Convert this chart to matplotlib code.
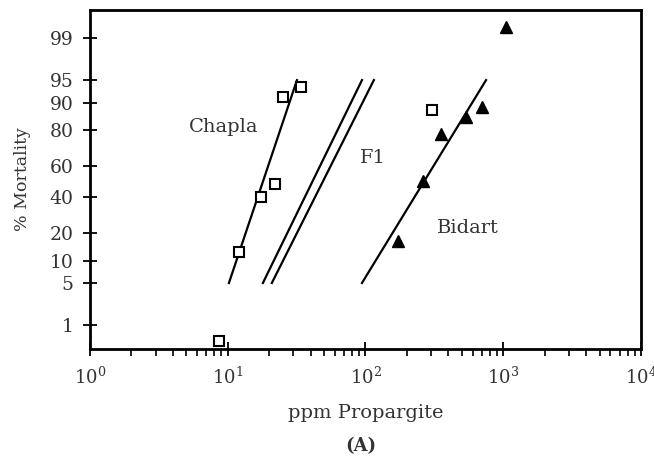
import numpy as np
import matplotlib
matplotlib.use("Agg")
import matplotlib.pyplot as plt
from matplotlib.ticker import FixedLocator, NullLocator, LogLocator
from statistics import NormalDist

# observed points (ppm, % mortality)
chapla_ppm = [8.6, 12.1, 17.4, 22.0, 25.2, 34.0, 304]
chapla_mort = [0.49, 12.8, 40, 48.7, 91.4, 93.7, 87.6]
bidart_ppm = [172, 261, 353, 537, 701, 1047]
bidart_mort = [16.9, 50.6, 77.8, 85.1, 88.6, 99.4]

# fitted probit lines, drawn from 5% to 95%
fit_mort = [5, 95]
chapla_fit = [10.2, 31.8]
f1a_fit = [18.0, 94.3]
f1b_fit = [20.9, 115]
bidart_fit = [94.3, 750]

y_ticks = [1, 5, 10, 20, 40, 60, 80, 90, 95, 99]

nd = NormalDist()
_ppf = np.vectorize(nd.inv_cdf, otypes=[float])
_cdf = np.vectorize(nd.cdf, otypes=[float])

def probit(p):
    p = np.clip(np.asarray(p, dtype=float) / 100.0, 1e-9, 1 - 1e-9)
    return _ppf(p)

def inv_probit(z):
    return _cdf(np.asarray(z, dtype=float)) * 100.0

plt.rcParams['font.family'] = 'DejaVu Serif'
plt.rcParams['mathtext.fontset'] = 'dejavuserif'
txt = '#333333'

fig = plt.figure(figsize=(6.54, 4.61), dpi=100)
ax = fig.add_axes([0.1376, 0.243, 0.8425, 0.735])

ax.set_xscale('log')
ax.set_yscale('function', functions=(probit, inv_probit))
ax.set_xlim(1, 1e4)
ax.set_ylim(0.331, 99.728)

ax.plot(chapla_fit, fit_mort, color='black', lw=1.6)
ax.plot(f1a_fit, fit_mort, color='black', lw=1.6)
ax.plot(f1b_fit, fit_mort, color='black', lw=1.6)
ax.plot(bidart_fit, fit_mort, color='black', lw=1.6)

ax.plot(chapla_ppm, chapla_mort, ls='none', marker='s', ms=7.5,
        mfc='white', mec='black', mew=1.5, clip_on=False)
ax.plot(bidart_ppm, bidart_mort, ls='none', marker='^', ms=8,
        mfc='black', mec='black', clip_on=False)

ax.text(9.4, 81, 'Chapla', fontsize=14, color=txt, ha='center', va='center')
ax.text(113, 64.8, 'F1', fontsize=14, color=txt, ha='center', va='center')
ax.text(555, 22.5, 'Bidart', fontsize=14, color=txt, ha='center', va='center')

ax.yaxis.set_major_locator(FixedLocator(y_ticks))
ax.yaxis.set_minor_locator(NullLocator())
ax.set_yticklabels([str(t) for t in y_ticks])
ax.xaxis.set_major_locator(LogLocator(base=10, numticks=10))
ax.xaxis.set_minor_locator(LogLocator(base=10, subs=np.arange(2, 10), numticks=50))

ax.tick_params(axis='y', direction='inout', length=10, width=1.3,
               labelsize=13.5, labelcolor=txt, pad=7)
ax.tick_params(axis='x', which='major', direction='inout', length=10, width=1.3,
               labelsize=13, labelcolor=txt, pad=8)
ax.tick_params(axis='x', which='minor', direction='out', length=5, width=1.2)

for s in ax.spines.values():
    s.set_linewidth(2)

ax.set_xlabel('ppm Propargite', fontsize=14, color=txt, labelpad=11)
ax.set_ylabel('% Mortality', fontsize=12.5, color=txt, labelpad=13)
fig.text(361 / 654, 1 - 446 / 461, '(A)', fontsize=13, fontweight='bold',
         color=txt, ha='center', va='center')

fig.savefig('out.png', dpi=100)
